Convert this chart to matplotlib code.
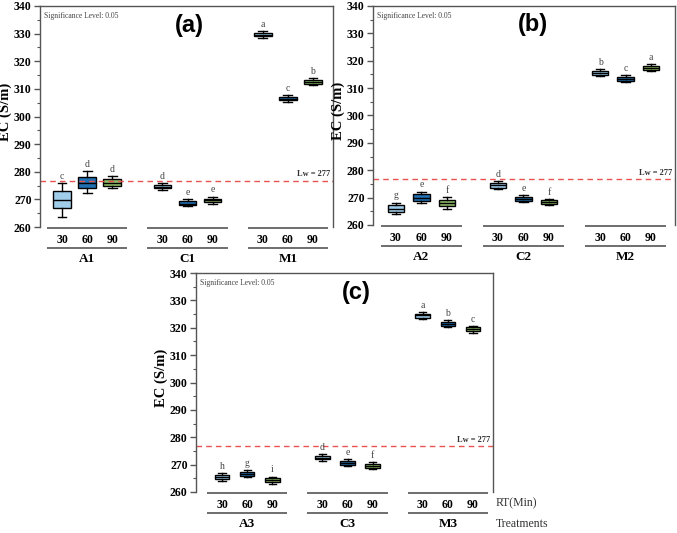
import matplotlib
matplotlib.use("Agg")
import matplotlib.pyplot as plt
import matplotlib.transforms as mtransforms
from matplotlib.ticker import MultipleLocator

# ---------------- data ----------------
rt_labels = ["30", "60", "90"]
groups_a = ["A1", "C1", "M1"]
groups_b = ["A2", "C2", "M2"]
groups_c = ["A3", "C3", "M3"]

# panel (a)
a_lo  = [263.6, 272.2, 274.2, 273.4, 267.6, 268.5, 328.5, 305.3, 311.4]
a_q1  = [267.0, 274.0, 274.9, 274.0, 268.0, 269.0, 329.0, 305.8, 311.9]
a_med = [269.8, 276.0, 276.1, 274.6, 268.5, 269.6, 329.6, 306.4, 312.6]
a_q3  = [273.0, 278.1, 277.2, 275.2, 269.3, 270.2, 330.3, 307.0, 313.3]
a_hi  = [276.0, 280.2, 278.4, 275.9, 270.1, 271.0, 331.0, 307.8, 314.0]
a_let = ["c", "d", "d", "d", "e", "e", "a", "c", "b"]

# panel (b)
b_lo  = [264.0, 268.0, 266.0, 273.1, 268.4, 267.2, 314.3, 312.2, 316.2]
b_q1  = [264.8, 268.8, 266.8, 273.6, 268.8, 267.8, 314.8, 312.7, 316.8]
b_med = [266.0, 270.0, 268.0, 274.5, 269.5, 268.4, 315.5, 313.4, 317.5]
b_q3  = [267.2, 271.2, 269.1, 275.2, 270.2, 269.0, 316.2, 314.1, 318.2]
b_hi  = [268.2, 272.2, 270.1, 276.0, 270.8, 269.5, 316.9, 314.8, 318.9]
b_let = ["g", "e", "f", "d", "e", "f", "b", "c", "a"]

# panel (c)
c_lo  = [264.2, 265.3, 263.0, 271.4, 269.5, 268.3, 323.1, 320.3, 318.1]
c_q1  = [264.8, 265.9, 263.6, 271.9, 270.0, 268.8, 323.6, 320.8, 318.7]
c_med = [265.5, 266.6, 264.3, 272.5, 270.6, 269.5, 324.5, 321.5, 319.4]
c_q3  = [266.2, 267.3, 265.0, 273.2, 271.3, 270.2, 325.1, 322.2, 320.1]
c_hi  = [266.9, 268.0, 265.6, 273.9, 272.0, 270.9, 325.8, 322.8, 320.7]
c_let = ["h", "g", "i", "d", "e", "f", "a", "b", "c"]

lw_value = 277

# ---------------- style ----------------
positions = [0, 1, 2, 4, 5, 6, 8, 9, 10]
box_colors = ["#9fcdea", "#2270b4", "#8fbd68"] * 3
serif = ["Liberation Serif", "DejaVu Serif"]
sans = ["Liberation Sans", "DejaVu Sans"]
spine_col = "#555555"

fig = plt.figure(figsize=(6.77, 5.33), dpi=100)


def panel(rect, xlim, lo, q1, med, q3, hi, letters, groups, tag, tag_xy,
          width, ylab_x, show_rt):
    ax = fig.add_axes(rect)
    stats = []
    for i in range(len(med)):
        stats.append(dict(whislo=lo[i], q1=q1[i], med=med[i], q3=q3[i],
                          whishi=hi[i], fliers=[]))
    bp = ax.bxp(stats, positions=positions, widths=width, capwidths=width * 0.5,
                patch_artist=True, showfliers=False,
                boxprops=dict(edgecolor="black", linewidth=1.0),
                medianprops=dict(color="black", linewidth=1.0),
                whiskerprops=dict(color="black", linewidth=1.0),
                capprops=dict(color="black", linewidth=1.0))
    for patch, col in zip(bp["boxes"], box_colors):
        patch.set_facecolor(col)
    for x, h, t in zip(positions, hi, letters):
        ax.text(x, h + 0.8, t, ha="center", va="bottom", fontsize=7,
                family=serif, color="#444444")

    ax.set_xlim(*xlim)
    ax.set_ylim(260, 340)
    ax.yaxis.set_major_locator(MultipleLocator(10))
    ax.yaxis.set_minor_locator(MultipleLocator(5))
    ax.tick_params(axis="y", which="major", length=4, width=1, color=spine_col,
                   labelsize=8.5, pad=2)
    ax.tick_params(axis="y", which="minor", length=2, width=0.8, color=spine_col)
    for lab in ax.get_yticklabels():
        lab.set_fontfamily(serif)
        lab.set_fontweight("bold")
    ax.set_xticks(positions)
    ax.set_xticklabels(rt_labels * 3)
    ax.tick_params(axis="x", length=0, pad=5, labelsize=8.5)
    for lab in ax.get_xticklabels():
        lab.set_fontfamily(serif)
        lab.set_fontweight("bold")

    for s in ["left", "right", "top"]:
        ax.spines[s].set_color(spine_col)
        ax.spines[s].set_linewidth(1.0)
    ax.spines["bottom"].set_visible(False)

    ax.axhline(lw_value - 0.3, color="#e8524f", lw=1.0, ls=(0, (4, 3)))
    ax.text(0.99, lw_value + 0.6, "Lw = 277", transform=ax.get_yaxis_transform(),
            ha="right", va="bottom", fontsize=6, family=serif,
            fontweight="bold", color="#333333")
    ax.text(0.012, 0.955, "Significance Level: 0.05", transform=ax.transAxes,
            ha="left", va="center", fontsize=5.5, family=serif, color="#444444")
    ax.text(tag_xy[0], tag_xy[1], tag, transform=ax.transAxes, ha="center",
            va="center", fontsize=17, fontweight="bold", family=sans)

    ax.set_ylabel("EC (S/m)", fontsize=10.5, fontweight="bold", family=serif)
    ax.yaxis.set_label_coords(ylab_x, 0.52)

    trans = mtransforms.blended_transform_factory(ax.transData, ax.transAxes)
    h_px = rect[3] * 533
    for g in range(3):
        x0 = positions[3 * g] - 0.6
        x1 = positions[3 * g + 2] + 0.6
        for yy in (-1.0 / h_px, -21.0 / h_px):
            ax.plot([x0, x1], [yy, yy], transform=trans, color="#555555",
                    lw=1.2, clip_on=False, solid_capstyle="butt")
        ax.text(positions[3 * g + 1], -32.0 / h_px, groups[g], transform=trans,
                ha="center", va="center", fontsize=9.5, fontweight="bold",
                family=serif)
    if show_rt:
        ax.text(1.008, -11.0 / h_px, "RT(Min)", transform=ax.transAxes,
                ha="left", va="center", fontsize=8.5, family=serif,
                color="#333333")
        ax.text(1.008, -32.0 / h_px, "Treatments", transform=ax.transAxes,
                ha="left", va="center", fontsize=8.5, family=serif,
                color="#333333")
    return ax


panel([40 / 677, 1 - 227 / 533, 293 / 677, 221 / 533], (-0.88, 10.8),
      a_lo, a_q1, a_med, a_q3, a_hi, a_let, groups_a, "(a)", (0.51, 0.914),
      0.7, -0.094, False)
panel([373 / 677, 1 - 225 / 533, 302 / 677, 219 / 533], (-0.9, 10.94),
      b_lo, b_q1, b_med, b_q3, b_hi, b_let, groups_b, "(b)", (0.53, 0.914),
      0.65, -0.093, True)
panel([196 / 677, 1 - 492 / 533, 297 / 677, 219 / 533], (-1.04, 10.8),
      c_lo, c_q1, c_med, c_q3, c_hi, c_let, groups_c, "(c)", (0.54, 0.909),
      0.58, -0.094, True)

fig.savefig("out.png", dpi=100)
